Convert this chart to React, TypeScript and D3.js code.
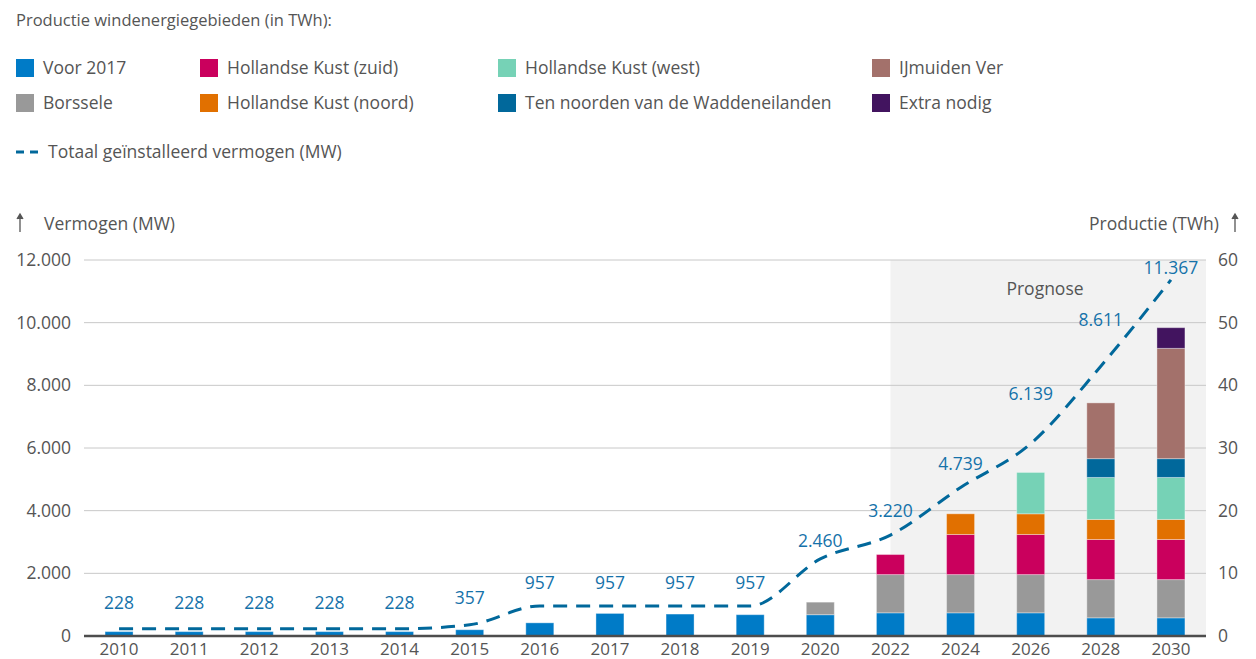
import React from "react";
import * as d3 from "d3";

const years = ["2010","2011","2012","2013","2014","2015","2016","2017","2018","2019","2020","2022","2024","2026","2028","2030"];

// Production per area (TWh)
const voor2017 = [0.7,0.7,0.7,0.7,0.7,1.0,2.1,3.6,3.5,3.4,3.4,3.7,3.7,3.7,2.9,2.9];
const borssele = [0,0,0,0,0,0,0,0,0,0,2.0,6.1,6.1,6.1,6.1,6.1];
const hkZuid = [0,0,0,0,0,0,0,0,0,0,0,3.2,6.4,6.4,6.4,6.4];
const hkNoord = [0,0,0,0,0,0,0,0,0,0,0,0,3.3,3.3,3.2,3.2];
const hkWest = [0,0,0,0,0,0,0,0,0,0,0,0,0,6.6,6.7,6.7];
const tenNoorden = [0,0,0,0,0,0,0,0,0,0,0,0,0,0,3.0,3.0];
const ijmuidenVer = [0,0,0,0,0,0,0,0,0,0,0,0,0,0,8.9,17.6];
const extraNodig = [0,0,0,0,0,0,0,0,0,0,0,0,0,0,0,3.3];

// Total installed capacity (MW)
const totaalMW = [228,228,228,228,228,357,957,957,957,957,2460,3220,4739,6139,8611,11367];

const leftTicks = [0,2000,4000,6000,8000,10000,12000];
const rightTicks = [0,10,20,30,40,50,60];
const prognoseStart = "2022";

const seriesNames = ["Voor 2017","Borssele","Hollandse Kust (zuid)","Hollandse Kust (noord)","Hollandse Kust (west)","Ten noorden van de Waddeneilanden","IJmuiden Ver","Extra nodig"];
const seriesValues = [voor2017,borssele,hkZuid,hkNoord,hkWest,tenNoorden,ijmuidenVer,extraNodig];
const seriesColors = ["#007bc7","#999999","#ca005d","#e17000","#76d2b6","#01689b","#a3716b","#42145f"];

// label offsets above the line point (styling)
const labelOffsets = [20,20,20,20,20,21,17,17,17,17,12,18,18,44,40,6];

const W = 1256, H = 659;
const M = { left: 84, right: 1206, top: 260, bottom: 636 };
const FONT = "'Open Sans', sans-serif";
const TXT = "#555555";
const LBL = "#1572aa";

function Arrow({ x, y1, y2 }: { x: number; y1: number; y2: number }) {
  return (
    <g stroke="#555555" strokeWidth={1.3} fill="none">
      <line x1={x} x2={x} y1={y1 + 1} y2={y2} />
      <path d={`M${x - 3},${y1 + 5} L${x},${y1} L${x + 3},${y1 + 5}`} fill="#555555" />
    </g>
  );
}

export default function App() {
  const x = d3.scaleBand<string>().domain(years).range([M.left, M.right]).padding(0);
  const yL = d3.scaleLinear().domain([0, 12000]).range([M.bottom, M.top]);
  const yR = d3.scaleLinear().domain([0, 60]).range([M.bottom, M.top]);
  const barW = 28;
  const cx = (yr: string) => (x(yr) as number) + x.bandwidth() / 2;
  const fmt = (v: number) => d3.format(",")(v).replace(/,/g, ".");

  const table = years.map((yr, i) => {
    const o: any = { year: yr };
    seriesNames.forEach((n, k) => (o[n] = seriesValues[k][i]));
    return o;
  });
  const stacked = d3.stack<any>().keys(seriesNames)(table);

  const line = d3
    .line<number>()
    .x((_, i) => cx(years[i]))
    .y((d) => yL(d))
    .curve(d3.curveMonotoneX);

  const progX = cx(prognoseStart);

  const legendCols = [16, 200, 498, 872];
  const legendRows = [68, 103];
  const legendOrder = [
    [0, 0, 0], [2, 1, 0], [4, 2, 0], [6, 3, 0],
    [1, 0, 1], [3, 1, 1], [5, 2, 1], [7, 3, 1],
  ];

  return (
    <svg width={W} height={H} style={{ position: "absolute", left: 0, top: 0, display: "block" }} fontFamily={FONT}>
      <rect x={0} y={0} width={W} height={H} fill="#ffffff" />
      <text x={16} y={20} dy="0.35em" fontSize={16.5} fill={TXT}>Productie windenergiegebieden (in TWh):</text>
      {legendOrder.map(([si, c, r]) => (
        <g key={si}>
          <rect x={legendCols[c]} y={legendRows[r] - 9} width={18} height={18} fill={seriesColors[si]} />
          <text x={legendCols[c] + 27} y={legendRows[r]} dy="0.35em" fontSize={17.5} fill={TXT}>{seriesNames[si]}</text>
        </g>
      ))}
      <line x1={16} x2={38} y1={152} y2={152} stroke="#01689b" strokeWidth={3} strokeDasharray="8,6" />
      <text x={48} y={152} dy="0.35em" fontSize={17.5} fill={TXT}>Totaal geïnstalleerd vermogen (MW)</text>

      <Arrow x={20} y1={214} y2={232} />
      <text x={44} y={224} dy="0.35em" fontSize={17.5} fill={TXT}>Vermogen (MW)</text>
      <text x={1219} y={224} dy="0.35em" fontSize={17.5} fill={TXT} textAnchor="end">Productie (TWh)</text>
      <Arrow x={1235} y1={214} y2={232} />

      <rect x={progX} y={M.top} width={M.right - progX} height={M.bottom - M.top} fill="#f2f2f2" />
      <text x={1045} y={289} dy="0.35em" fontSize={17.5} fill={TXT} textAnchor="middle">Prognose</text>

      {leftTicks.map((t) => (
        <g key={t}>
          {t !== 0 && <line x1={M.left} x2={M.right} y1={yL(t)} y2={yL(t)} stroke="#c8c8c8" strokeWidth={1} />}
          <text x={71} y={yL(t)} dy="0.35em" fontSize={17.5} fill={TXT} textAnchor="end">{fmt(t)}</text>
        </g>
      ))}
      {rightTicks.map((t) => (
        <text key={t} x={1218} y={yR(t)} dy="0.35em" fontSize={17.5} fill={TXT}>{t}</text>
      ))}

      {stacked.map((s, k) =>
        s.map((d, i) =>
          d[1] - d[0] > 0 ? (
            <rect key={k + "-" + i} x={cx(years[i]) - barW / 2} y={yR(d[1])} width={barW} height={yR(d[0]) - yR(d[1])}
              fill={seriesColors[k]} stroke="#ffffff" strokeOpacity={0.35} strokeWidth={1} />
          ) : null
        )
      )}

      <line x1={M.left} x2={M.right} y1={M.bottom} y2={M.bottom} stroke="#4d4d4d" strokeWidth={2.5} />
      {years.map((yr) => (
        <text key={yr} x={cx(yr)} y={649} dy="0.35em" fontSize={17} fill={TXT} textAnchor="middle">{yr}</text>
      ))}

      <path d={line(totaalMW) || ""} fill="none" stroke="#01689b" strokeWidth={3} strokeDasharray="14,9" />
      {totaalMW.map((v, i) => (
        <text key={i} x={cx(years[i])} y={yL(v) - labelOffsets[i]} fontSize={17.5} fill={LBL} textAnchor="middle">
          {fmt(v)}
        </text>
      ))}
    </svg>
  );
}
